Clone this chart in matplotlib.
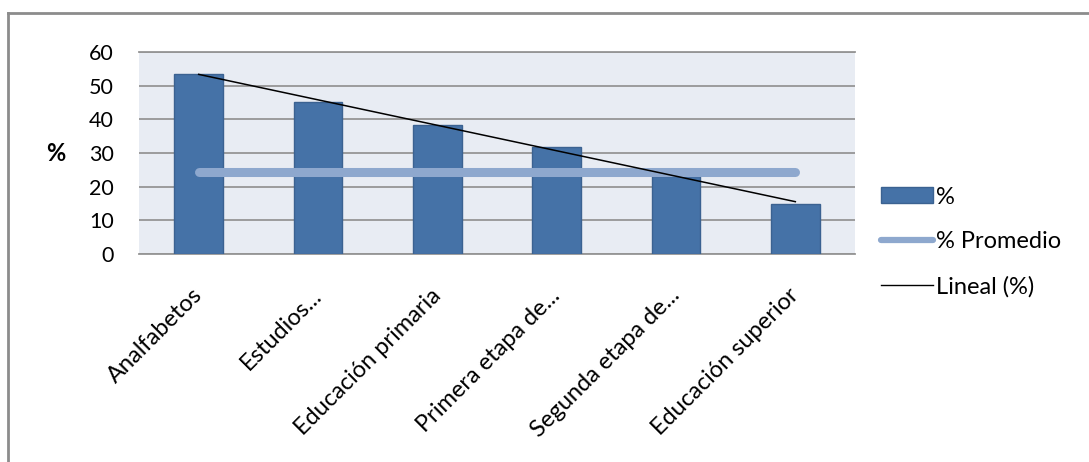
import matplotlib.pyplot as plt
from matplotlib.lines import Line2D
from matplotlib.patches import Patch
import matplotlib.transforms as mtransforms
import numpy as np

plt.rcParams['font.family'] = ['Lato', 'DejaVu Sans']

# nivel educativo vs porcentaje
categorias = ['Analfabetos', 'Estudios...', 'Educación primaria',
              'Primera etapa de...', 'Segunda etapa de...', 'Educación superior']
porcentaje = [53.4, 45.1, 38.3, 31.8, 23.2, 14.9]
promedio = [24.5] * 6
y_ticks = [0, 10, 20, 30, 40, 50, 60]

bar_color = '#4572A7'
bar_edge = '#3B6291'
prom_color = '#8EA8CE'

fig = plt.figure(figsize=(10.89, 4.62), dpi=100)
ax = fig.add_axes([139/1089, 1 - 254/462, 716/1089, 202/462])

x = np.arange(1, len(categorias) + 1)
ax.set_facecolor('#E8ECF3')
ax.bar(x, porcentaje, width=0.41, color=bar_color, edgecolor=bar_edge,
       linewidth=1, zorder=3)
ax.plot(x, promedio, color=prom_color, linewidth=6.5, solid_capstyle='round',
        zorder=4)

# linea de tendencia lineal
coef = np.polyfit(x, porcentaje, 1)
ax.plot(x, np.polyval(coef, x), color='black', linewidth=1.1, zorder=5)

ax.set_xlim(0.5, len(categorias) + 0.5)
ax.set_ylim(0, 60)
ax.set_yticks(y_ticks)
ax.tick_params(axis='y', length=0, labelsize=15.5, pad=18)
ax.tick_params(axis='x', length=0)
ax.yaxis.grid(True, color='#959595', linewidth=1.3, zorder=1)
ax.set_axisbelow(True)
for side in ['left', 'right']:
    ax.spines[side].set_visible(False)
for side in ['top', 'bottom']:
    ax.spines[side].set_color('#959595')
    ax.spines[side].set_linewidth(1.3)

ax.set_xticks(x)
ax.set_xticklabels(categorias, rotation=45, ha='right', va='center',
                   rotation_mode='anchor', fontsize=17)
offset = mtransforms.ScaledTranslation(0, -24/72, fig.dpi_scale_trans)
for lbl in ax.get_xticklabels():
    lbl.set_transform(lbl.get_transform() + offset)

fig.text(56/1089, 1 - 154/462, '%', fontsize=17, fontweight='bold',
         ha='center', va='center')

handles = [Patch(facecolor=bar_color, edgecolor=bar_edge, label='%'),
           Line2D([], [], color=prom_color, linewidth=4.5,
                  solid_capstyle='round', label='% Promedio'),
           Line2D([], [], color='black', linewidth=1, label='Lineal (%)')]
fig.legend(handles=handles, loc='center left',
           bbox_to_anchor=(881/1089, 1 - 242/462), frameon=False,
           fontsize=17, handlelength=2.2, handleheight=0.65,
           handletextpad=0.15, labelspacing=1.0, borderaxespad=0,
           borderpad=0)

# borde del area del grafico
fig.add_artist(Line2D([8/1089, 1], [1 - 13/462, 1 - 13/462],
                      color='#8C8C8C', linewidth=2))
fig.add_artist(Line2D([8/1089, 8/1089], [0, 1 - 13/462],
                      color='#8C8C8C', linewidth=2))

fig.savefig('out.png', dpi=100)
